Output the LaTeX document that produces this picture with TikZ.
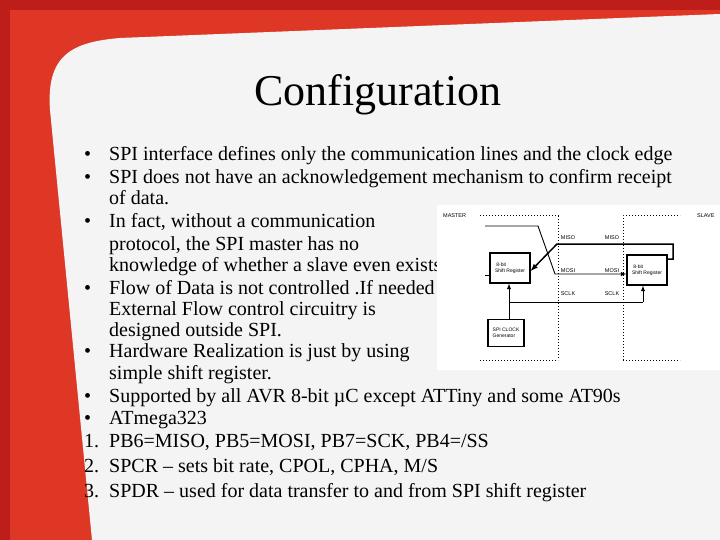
\documentclass[tikz,border=0pt]{standalone}
\usepackage{fontspec}
\setmainfont{Liberation Serif}
\newfontfamily\diag{Liberation Sans}
\definecolor{redA}{RGB}{190,30,25}
\definecolor{redB}{RGB}{222,55,38}
\definecolor{paper}{RGB}{244,244,244}
\begin{document}
\begin{tikzpicture}[x=1pt,y=-1pt,
  txt/.style={anchor=base west,inner sep=0pt,font=\fontsize{20}{22}\selectfont},
  bul/.style={anchor=base west,inner sep=0pt,font=\fontsize{20}{22}\selectfont},
  blk/.style={draw,line width=1.2pt,inner sep=0pt,align=left,font=\diag\fontsize{5}{6}\selectfont},
  lab/.style={inner sep=0pt,font=\diag\fontsize{5.5}{6}\selectfont},
  dot/.style={dotted,line width=1pt},
  wire/.style={line width=0.9pt},
  arr/.style={-latex}]
\useasboundingbox (0,0) rectangle (720,540);
\fill[redA] (0,0) rectangle (720,540);
\fill[redB] (10,10) rectangle (720,540);
\fill[paper] (92,540) -- (50,110) .. controls (46,55) and (72,42) .. (120,38) -- (720,14) -- (720,540) -- cycle;
\node[inner sep=0pt,font=\fontsize{44}{48}\selectfont] (title) at (378,95) {Configuration};
\foreach \y/\t [count=\i] in {
161/{SPI interface defines only the communication lines and the clock edge},
184/{SPI does not have an acknowledgement mechanism to confirm receipt},
205/{of data.},
227/{In fact, without a communication},
250/{protocol, the SPI master has no},
271/{knowledge of whether a slave even exists},
294/{Flow of Data is not controlled .If needed},
315/{External Flow control circuitry is},
336/{designed outside SPI.},
357/{Hardware Realization is just by using},
379/{simple shift register.},
402/{Supported by all AVR 8-bit µC except ATTiny and some AT90s},
424/{ATmega323},
447/{PB6=MISO, PB5=MOSI, PB7=SCK, PB4=/SS},
472/{SPCR – sets bit rate, CPOL, CPHA, M/S},
497/{SPDR – used for data transfer to and from SPI shift register}}
  {\node[txt] (t\i) at (109,\y) {\t};}
\foreach \y/\b [count=\i] in {161/•,184/•,227/•,294/•,357/•,402/•,424/•,447/1.,472/2.,497/3.}
  {\node[bul] (b\i) at (84,\y) {\b};}
% diagram
\fill[white] (437,205) rectangle (720,370);
\draw[dot] (480,216) -- (558,216) -- (558,360);
\draw[dot] (480,360) -- (558,360);
\draw[dot] (623,360) -- (623,216) -- (680,216);
\draw[dot] (623,360) -- (680,360);
\node[lab,anchor=west] (ml) at (443,216) {MASTER};
\node[lab,anchor=west] (sl) at (697,216) {SLAVE};
\node[blk,minimum width=40pt,minimum height=30pt] (msr) at (510,268) {\ 8-bit\\ Shift Register};
\node[blk,minimum width=40pt,minimum height=30pt] (ssr) at (647,270) {\ 8-bit\\ Shift Register};
\node[blk,minimum width=36pt,minimum height=27pt] (clk) at (506,333) {SPI CLOCK\\ Generator};
\node[lab] (l1) at (568,238) {MISO};
\node[lab] (l2) at (612,238) {MISO};
\node[lab] (l3) at (568,271) {MOSI};
\node[lab] (l4) at (612,271) {MOSI};
\node[lab] (l5) at (568,294) {SCLK};
\node[lab] (l6) at (612,294) {SCLK};
\coordinate (a1) at (485,226);
\coordinate (a0) at (485,275);
\draw[wire,arr] (a1) -- (538,226) -- (555,274) -- (ssr.west |- 0,274);
\draw[line width=1.5pt,arr] (ssr.east |- 0,259) -- (673,259) -- (673,244) -- (557,244) -- (msr.east |- 0,271);
\draw[wire] (a0) -- (msr.west |- a0);
\draw[wire,arr] (clk.north -| 509,0) -- (msr.south -| 509,0);
\draw[wire] (509,302) -- (643,302);
\draw[wire,arr] (643,302) -- (ssr.south -| 643,0);
\end{tikzpicture}
\end{document}
